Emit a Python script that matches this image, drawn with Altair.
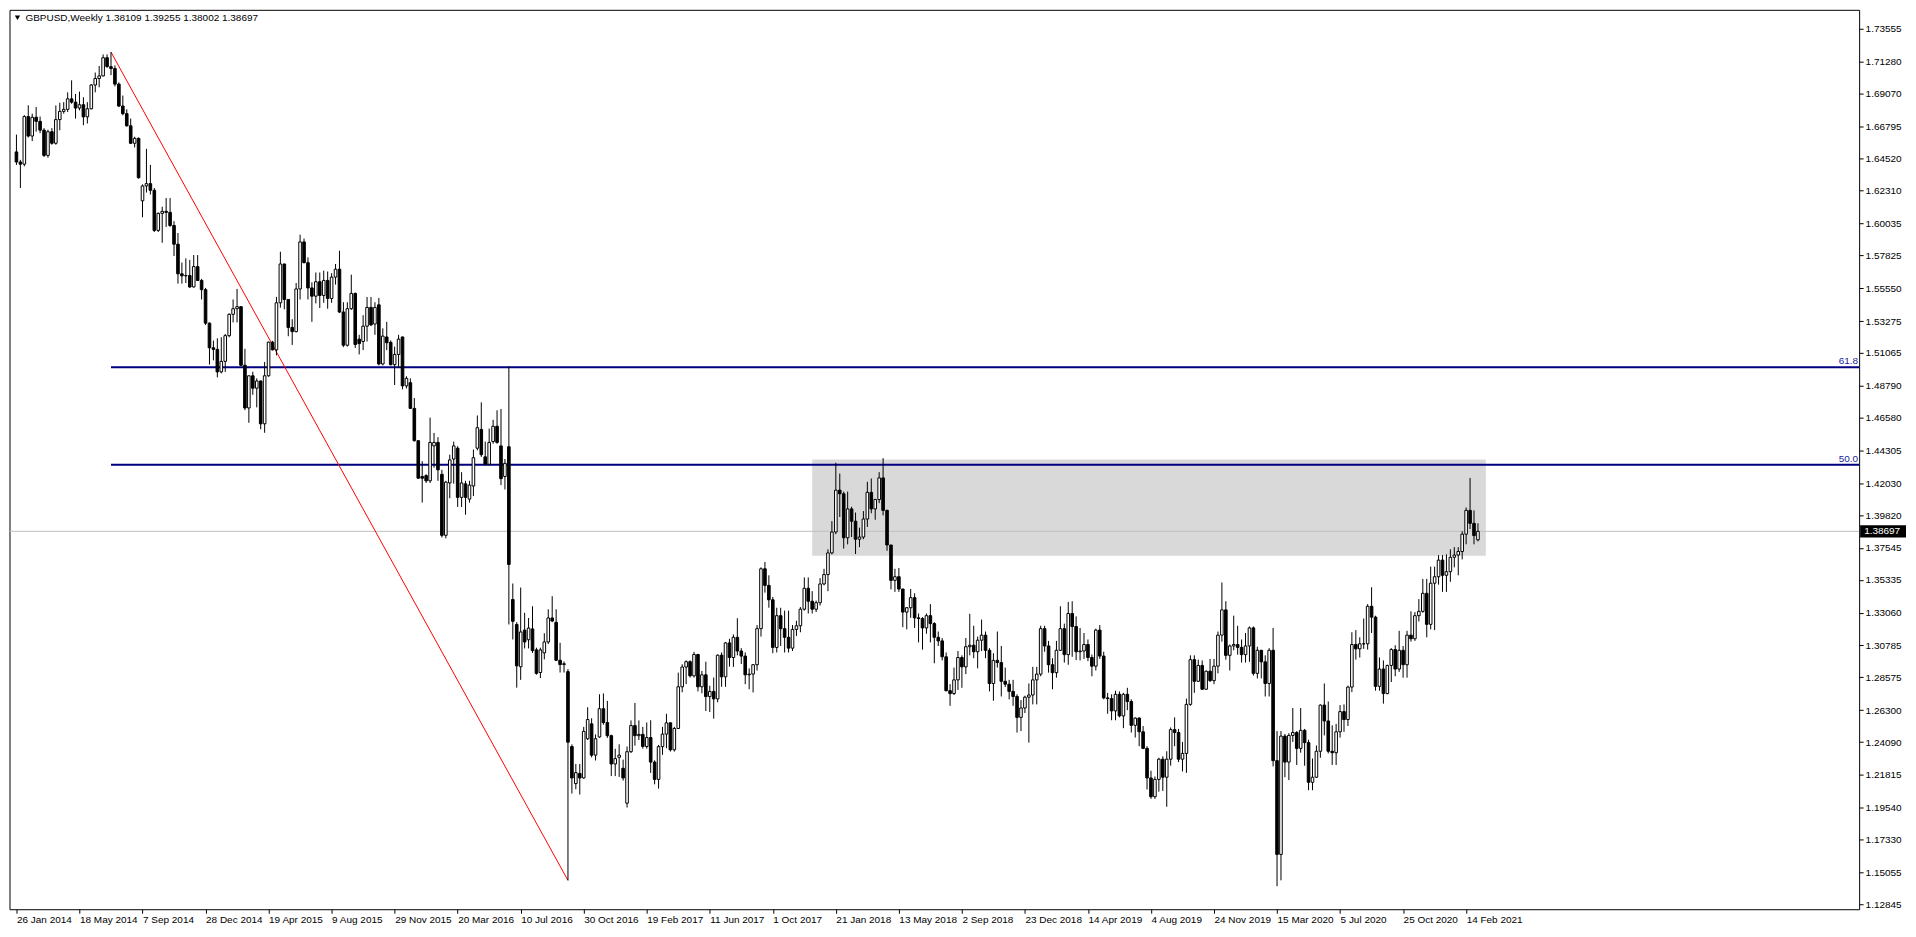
import altair as alt
import pandas as pd

# ---------------- data (GBPUSD weekly candles) ----------------
opens = [
    1.6500, 1.6430, 1.6415, 1.6745, 1.6610, 1.6740, 1.6712, 1.6651, 1.6476, 1.6640,
    1.6560, 1.6724, 1.6781, 1.6795, 1.6868, 1.6845, 1.6804, 1.6827, 1.6743, 1.6799,
    1.6964, 1.7009, 1.7027, 1.7153, 1.7091, 1.7078, 1.6970, 1.6818, 1.6765, 1.6681,
    1.6560, 1.6594, 1.6161, 1.6264, 1.6280, 1.6234, 1.5956, 1.6074, 1.6088, 1.6081,
    1.5990, 1.5860, 1.5655, 1.5641, 1.5643, 1.5564, 1.5705, 1.5609, 1.5545, 1.5313,
    1.5142, 1.5131, 1.4975, 1.5048, 1.5226, 1.5374, 1.5413, 1.5427, 1.5021, 1.4725,
    1.4948, 1.4862, 1.4912, 1.4615, 1.4948, 1.5181, 1.5128, 1.5454, 1.5723, 1.5477,
    1.5283, 1.5254, 1.5550, 1.5876, 1.5732, 1.5557, 1.5500, 1.5600, 1.5505, 1.5609,
    1.5484, 1.5632, 1.5687, 1.5390, 1.5160, 1.5413, 1.5519, 1.5202, 1.5186, 1.5292,
    1.5422, 1.5307, 1.5440, 1.5030, 1.5217, 1.5180, 1.5025, 1.5096, 1.5217, 1.4878,
    1.4900, 1.4722, 1.4498, 1.4250, 1.4256, 1.4220, 1.4462, 1.4486, 1.4265, 1.3842,
    1.4205, 1.4371, 1.4446, 1.4105, 1.4199, 1.4093, 1.4184, 1.4446, 1.4576, 1.4386,
    1.4335, 1.4492, 1.4598, 1.4462, 1.4250, 1.4456, 1.3397, 1.3224, 1.2931, 1.3185,
    1.3118, 1.3193, 1.3048, 1.2891, 1.3027, 1.3103, 1.3269, 1.3239, 1.2976, 1.2946,
    1.2897, 1.2378, 1.2121, 1.2191, 1.2160, 1.2432, 1.2535, 1.2318, 1.2444, 1.2640,
    1.2544, 1.2453, 1.2257, 1.2303, 1.2227, 1.1985, 1.2342, 1.2523, 1.2453, 1.2462,
    1.2378, 1.2440, 1.2270, 1.2150, 1.2377, 1.2464, 1.2542, 1.2355, 1.2503, 1.2792,
    1.2929, 1.2966, 1.2868, 1.3016, 1.2792, 1.2875, 1.2724, 1.2760, 1.2708, 1.3011,
    1.2861, 1.3096, 1.2995, 1.3135, 1.3040, 1.3005, 1.2875, 1.2880, 1.2945, 1.3195,
    1.3610, 1.3495, 1.3395, 1.3065, 1.3285, 1.3195, 1.3135, 1.3060, 1.3190, 1.3215,
    1.3330, 1.3475, 1.3385, 1.3330, 1.3375, 1.3505, 1.3570, 1.3720, 1.3865, 1.4155,
    1.4130, 1.3825, 1.4025, 1.3940, 1.3815, 1.3830, 1.3955, 1.4140, 1.4025, 1.4090,
    1.4240, 1.4015, 1.3775, 1.3530, 1.3555, 1.3470, 1.3310, 1.3340, 1.3410, 1.3270,
    1.3265, 1.3200, 1.3285, 1.3230, 1.3135, 1.3110, 1.3000, 1.2765, 1.2745, 1.2840,
    1.2995, 1.2930, 1.3070, 1.3080, 1.3035, 1.3115, 1.3150, 1.3045, 1.2815, 1.2975,
    1.2960, 1.2830, 1.2810, 1.2760, 1.2725, 1.2580, 1.2645, 1.2720, 1.2735, 1.2840,
    1.2880, 1.3195, 1.3075, 1.2945, 1.2890, 1.3045, 1.3195, 1.3015, 1.3300, 1.3210,
    1.3035, 1.3040, 1.3085, 1.2995, 1.2935, 1.3185, 1.3005, 1.2715, 1.2710, 1.2625,
    1.2740, 1.2590, 1.2740, 1.2690, 1.2525, 1.2575, 1.2480, 1.2365, 1.2160, 1.2030,
    1.2150, 1.2290, 1.2165, 1.2290, 1.2495, 1.2475, 1.2290, 1.2330, 1.2670, 1.2980,
    1.2830, 1.2940, 1.2775, 1.2900, 1.2835, 1.2935, 1.3150, 1.3325, 1.3010, 1.3075,
    1.3085, 1.3065, 1.3015, 1.3075, 1.3200, 1.2885, 1.3045, 1.2965, 1.2815, 1.3045,
    1.2280, 1.1630, 1.2450, 1.2270, 1.2455, 1.2475, 1.2365, 1.2490, 1.2405, 1.2130,
    1.2165, 1.2345, 1.2665, 1.2555, 1.2345, 1.2335, 1.2480, 1.2620, 1.2565, 1.2790,
    1.3085, 1.3055, 1.3090, 1.3090, 1.3350, 1.3275, 1.2795, 1.2915, 1.2745, 1.2940,
    1.3050, 1.2915, 1.3045, 1.2945, 1.3150, 1.3125, 1.3285, 1.3315, 1.3440, 1.3225,
    1.3510, 1.3555, 1.3670, 1.3565, 1.3590, 1.3690, 1.3705, 1.3730, 1.3850, 1.4015,
    1.3925, 1.38109,
]
highs = [
    1.6620, 1.6445, 1.6755, 1.6823, 1.6765, 1.6811, 1.6745, 1.6665, 1.6654, 1.6665,
    1.6822, 1.6841, 1.6845, 1.6913, 1.6996, 1.6902, 1.6918, 1.6879, 1.6845, 1.6970,
    1.7050, 1.7096, 1.7176, 1.7176, 1.7192, 1.7100, 1.6982, 1.6891, 1.6795, 1.6731,
    1.6605, 1.6600, 1.6275, 1.6521, 1.6410, 1.6250, 1.6080, 1.6120, 1.6180, 1.6180,
    1.6020, 1.5938, 1.5733, 1.5762, 1.5751, 1.5785, 1.5785, 1.5620, 1.5557, 1.5318,
    1.5192, 1.5208, 1.5215, 1.5238, 1.5381, 1.5477, 1.5550, 1.5430, 1.5135, 1.4950,
    1.4976, 1.4930, 1.4915, 1.5044, 1.5185, 1.5190, 1.5495, 1.5808, 1.5725, 1.5480,
    1.5340, 1.5591, 1.5926, 1.5899, 1.5769, 1.5596, 1.5664, 1.5664, 1.5677, 1.5671,
    1.5659, 1.5723, 1.5815, 1.5458, 1.5458, 1.5649, 1.5525, 1.5232, 1.5368, 1.5494,
    1.5494, 1.5458, 1.5488, 1.5277, 1.5322, 1.5193, 1.5150, 1.5232, 1.5220, 1.4945,
    1.4930, 1.4794, 1.4500, 1.4356, 1.4265, 1.4658, 1.4552, 1.4522, 1.4296, 1.4220,
    1.4401, 1.4492, 1.4460, 1.4280, 1.4220, 1.4220, 1.4437, 1.4673, 1.4764, 1.4492,
    1.4582, 1.4643, 1.4709, 1.4718, 1.4371, 1.5015, 1.3508, 1.3240, 1.3480, 1.3305,
    1.3269, 1.3350, 1.3063, 1.3063, 1.3163, 1.3329, 1.3420, 1.3329, 1.3097, 1.2967,
    1.2915, 1.2393, 1.2257, 1.2257, 1.2514, 1.2650, 1.2574, 1.2462, 1.2740, 1.2746,
    1.2694, 1.2460, 1.2362, 1.2393, 1.2287, 1.2378, 1.2559, 1.2680, 1.2559, 1.2514,
    1.2544, 1.2560, 1.2282, 1.2389, 1.2514, 1.2605, 1.2545, 1.2514, 1.2890, 1.2948,
    1.2975, 1.2975, 1.3034, 1.3020, 1.2902, 1.2966, 1.2799, 1.2856, 1.3016, 1.3030,
    1.3102, 1.3125, 1.3155, 1.3267, 1.3060, 1.3030, 1.2920, 1.2950, 1.3220, 1.3620,
    1.3657, 1.3565, 1.3415, 1.3340, 1.3340, 1.3320, 1.3320, 1.3220, 1.3250, 1.3345,
    1.3550, 1.3550, 1.3455, 1.3390, 1.3545, 1.3610, 1.3745, 1.3940, 1.4345, 1.4270,
    1.4145, 1.4145, 1.4040, 1.4000, 1.3895, 1.4010, 1.4213, 1.4236, 1.4095, 1.4280,
    1.4377, 1.4020, 1.3775, 1.3610, 1.3615, 1.3470, 1.3345, 1.3470, 1.3440, 1.3300,
    1.3275, 1.3300, 1.3365, 1.3240, 1.3175, 1.3130, 1.3030, 1.2810, 1.2925, 1.3040,
    1.3010, 1.3130, 1.3298, 1.3215, 1.3140, 1.3258, 1.3175, 1.3060, 1.3025, 1.3175,
    1.3075, 1.2925, 1.2840, 1.2840, 1.2740, 1.2700, 1.2730, 1.2815, 1.2930, 1.2930,
    1.3215, 1.3215, 1.3110, 1.2990, 1.3110, 1.3350, 1.3230, 1.3380, 1.3385, 1.3280,
    1.3200, 1.3165, 1.3120, 1.3015, 1.3195, 1.3220, 1.3035, 1.2750, 1.2740, 1.2765,
    1.2760, 1.2750, 1.2785, 1.2705, 1.2580, 1.2580, 1.2520, 1.2380, 1.2210, 1.2170,
    1.2300, 1.2310, 1.2345, 1.2510, 1.2580, 1.2500, 1.2410, 1.2710, 1.3010, 1.3010,
    1.2980, 1.2975, 1.2905, 1.2985, 1.2985, 1.3175, 1.3515, 1.3385, 1.3085, 1.3285,
    1.3215, 1.3120, 1.3165, 1.3210, 1.3210, 1.3070, 1.3020, 1.3010, 1.3060, 1.3200,
    1.2485, 1.2485, 1.2465, 1.2470, 1.2645, 1.2485, 1.2645, 1.2500, 1.2425, 1.2295,
    1.2385, 1.2670, 1.2815, 1.2690, 1.2525, 1.2535, 1.2665, 1.2670, 1.2800, 1.3170,
    1.3185, 1.3135, 1.3265, 1.3365, 1.3482, 1.3285, 1.2995, 1.2975, 1.2945, 1.3060,
    1.3080, 1.3180, 1.3075, 1.3180, 1.3315, 1.3310, 1.3400, 1.3540, 1.3540, 1.3625,
    1.3625, 1.3705, 1.3705, 1.3710, 1.3745, 1.3760, 1.3760, 1.3870, 1.4035, 1.4240,
    1.4015, 1.39255,
]
lows = [
    1.6410, 1.6250, 1.6400, 1.6600, 1.6575, 1.6640, 1.6630, 1.6465, 1.6460, 1.6550,
    1.6550, 1.6650, 1.6765, 1.6777, 1.6834, 1.6731, 1.6788, 1.6685, 1.6697, 1.6795,
    1.6913, 1.6948, 1.7023, 1.7084, 1.7032, 1.6954, 1.6811, 1.6754, 1.6675, 1.6555,
    1.6531, 1.6315, 1.6047, 1.6218, 1.6205, 1.5945, 1.5945, 1.5870, 1.5980, 1.5980,
    1.5778, 1.5587, 1.5587, 1.5591, 1.5557, 1.5560, 1.5605, 1.5477, 1.5300, 1.5026,
    1.5055, 1.4937, 1.4965, 1.4975, 1.5215, 1.5318, 1.5318, 1.5017, 1.4710, 1.4622,
    1.4816, 1.4729, 1.4577, 1.4553, 1.4941, 1.5124, 1.5090, 1.5420, 1.5409, 1.5222,
    1.5162, 1.5249, 1.5477, 1.5728, 1.5477, 1.5322, 1.5450, 1.5418, 1.5454, 1.5413,
    1.5454, 1.5580, 1.5383, 1.5147, 1.5150, 1.5405, 1.5141, 1.5096, 1.5126, 1.5186,
    1.5292, 1.5232, 1.5020, 1.5020, 1.5126, 1.5020, 1.4884, 1.5005, 1.4854, 1.4860,
    1.4718, 1.4492, 1.4235, 1.4069, 1.4205, 1.4205, 1.4311, 1.4220, 1.3827, 1.3821,
    1.4099, 1.4200, 1.4039, 1.4039, 1.3985, 1.4069, 1.4114, 1.4431, 1.4386, 1.4326,
    1.4326, 1.4477, 1.4477, 1.4190, 1.4160, 1.3224, 1.3120, 1.2786, 1.2840, 1.3058,
    1.3058, 1.3027, 1.2876, 1.2852, 1.2982, 1.3088, 1.3240, 1.2970, 1.2891, 1.2891,
    1.1450, 1.2052, 1.2082, 1.2045, 1.2155, 1.2423, 1.2303, 1.2281, 1.2438, 1.2529,
    1.2438, 1.2173, 1.2173, 1.2167, 1.2142, 1.1955, 1.2333, 1.2384, 1.2423, 1.2363,
    1.2363, 1.2195, 1.2116, 1.2086, 1.2320, 1.2366, 1.2343, 1.2343, 1.2503, 1.2754,
    1.2811, 1.2856, 1.2856, 1.2760, 1.2747, 1.2624, 1.2617, 1.2571, 1.2685, 1.2792,
    1.2792, 1.2932, 1.2930, 1.3010, 1.2950, 1.2810, 1.2775, 1.2753, 1.2905, 1.3140,
    1.3445, 1.3340, 1.3025, 1.3030, 1.3075, 1.3030, 1.3030, 1.3040, 1.3145, 1.3170,
    1.3320, 1.3300, 1.3300, 1.3310, 1.3355, 1.3495, 1.3455, 1.3710, 1.3850, 1.3969,
    1.3750, 1.3779, 1.3830, 1.3712, 1.3760, 1.3815, 1.3900, 1.3995, 1.3950, 1.4065,
    1.3980, 1.3735, 1.3467, 1.3450, 1.3450, 1.3205, 1.3190, 1.3270, 1.3200, 1.3100,
    1.3050, 1.3160, 1.3100, 1.2955, 1.3075, 1.2975, 1.2760, 1.2660, 1.2735, 1.2770,
    1.2785, 1.2880, 1.3010, 1.2990, 1.2920, 1.3040, 1.2990, 1.2760, 1.2695, 1.2925,
    1.2725, 1.2790, 1.2705, 1.2660, 1.2475, 1.2485, 1.2610, 1.2405, 1.2670, 1.2670,
    1.2865, 1.3035, 1.2890, 1.2775, 1.2855, 1.3040, 1.2960, 1.2945, 1.3000, 1.2977,
    1.2975, 1.2985, 1.2970, 1.2865, 1.2905, 1.2985, 1.2705, 1.2605, 1.2560, 1.2560,
    1.2580, 1.2505, 1.2630, 1.2475, 1.2440, 1.2380, 1.2360, 1.2080, 1.2015, 1.2015,
    1.2065, 1.2070, 1.1960, 1.2245, 1.2380, 1.2270, 1.2205, 1.2195, 1.2660, 1.2750,
    1.2825, 1.2770, 1.2770, 1.2825, 1.2810, 1.2885, 1.3105, 1.2980, 1.2905, 1.3045,
    1.3015, 1.2960, 1.2960, 1.2965, 1.2870, 1.2850, 1.2850, 1.2725, 1.2725, 1.2240,
    1.1410, 1.1450, 1.2165, 1.2145, 1.2410, 1.2250, 1.2335, 1.2245, 1.2075, 1.2075,
    1.2160, 1.2300, 1.2455, 1.2330, 1.2250, 1.2250, 1.2440, 1.2480, 1.2520, 1.2755,
    1.2980, 1.2995, 1.3055, 1.3050, 1.3165, 1.2765, 1.2765, 1.2675, 1.2740, 1.2825,
    1.2865, 1.2895, 1.2855, 1.2855, 1.3105, 1.3110, 1.3245, 1.3305, 1.3135, 1.3190,
    1.3185, 1.3500, 1.3450, 1.3450, 1.3520, 1.3620, 1.3565, 1.3675, 1.3780, 1.3885,
    1.3780, 1.38002,
]
closes = [
    1.6430, 1.6415, 1.6745, 1.6610, 1.6740, 1.6712, 1.6651, 1.6476, 1.6640, 1.6560,
    1.6724, 1.6781, 1.6795, 1.6868, 1.6845, 1.6804, 1.6827, 1.6743, 1.6799, 1.6964,
    1.7009, 1.7027, 1.7153, 1.7091, 1.7078, 1.6970, 1.6818, 1.6765, 1.6681, 1.6560,
    1.6594, 1.6321, 1.6264, 1.6280, 1.6234, 1.5956, 1.6074, 1.6088, 1.6081, 1.5990,
    1.5860, 1.5655, 1.5641, 1.5643, 1.5564, 1.5705, 1.5609, 1.5545, 1.5313, 1.5142,
    1.5131, 1.4975, 1.5048, 1.5226, 1.5374, 1.5413, 1.5427, 1.5021, 1.4725, 1.4948,
    1.4862, 1.4912, 1.4615, 1.4948, 1.5181, 1.5128, 1.5454, 1.5723, 1.5477, 1.5283,
    1.5254, 1.5550, 1.5876, 1.5732, 1.5557, 1.5500, 1.5600, 1.5505, 1.5609, 1.5484,
    1.5632, 1.5687, 1.5390, 1.5160, 1.5413, 1.5519, 1.5165, 1.5171, 1.5292, 1.5422,
    1.5301, 1.5422, 1.5030, 1.5223, 1.5177, 1.5025, 1.5096, 1.5202, 1.4878, 1.4930,
    1.4722, 1.4498, 1.4238, 1.4238, 1.4220, 1.4486, 1.4486, 1.4296, 1.3842, 1.4211,
    1.4365, 1.4462, 1.4105, 1.4205, 1.4105, 1.4190, 1.4380, 1.4588, 1.4401, 1.4335,
    1.4486, 1.4598, 1.4486, 1.4235, 1.4341, 1.3640, 1.3246, 1.2937, 1.3172, 1.3103,
    1.3199, 1.3043, 1.2885, 1.3048, 1.3103, 1.3269, 1.3248, 1.2976, 1.2946, 1.2952,
    1.2408, 1.2160, 1.2197, 1.2160, 1.2483, 1.2565, 1.2318, 1.2432, 1.2640, 1.2544,
    1.2453, 1.2257, 1.2294, 1.2318, 1.2160, 1.2342, 1.2523, 1.2453, 1.2462, 1.2378,
    1.2440, 1.2270, 1.2150, 1.2377, 1.2464, 1.2542, 1.2355, 1.2503, 1.2792, 1.2929,
    1.2966, 1.2868, 1.3016, 1.2792, 1.2875, 1.2724, 1.2760, 1.2708, 1.3011, 1.2861,
    1.3096, 1.2995, 1.3135, 1.3040, 1.3005, 1.2875, 1.2880, 1.2945, 1.3195, 1.3610,
    1.3495, 1.3395, 1.3065, 1.3285, 1.3195, 1.3135, 1.3060, 1.3190, 1.3215, 1.3330,
    1.3475, 1.3385, 1.3330, 1.3375, 1.3505, 1.3570, 1.3720, 1.3865, 1.4155, 1.4130,
    1.3825, 1.4025, 1.3940, 1.3815, 1.3830, 1.3955, 1.4140, 1.4025, 1.4090, 1.4240,
    1.4015, 1.3775, 1.3530, 1.3555, 1.3470, 1.3310, 1.3340, 1.3410, 1.3270, 1.3265,
    1.3200, 1.3285, 1.3230, 1.3135, 1.3110, 1.3000, 1.2765, 1.2745, 1.2840, 1.2995,
    1.2930, 1.3070, 1.3080, 1.3035, 1.3115, 1.3150, 1.3045, 1.2815, 1.2975, 1.2960,
    1.2830, 1.2810, 1.2760, 1.2725, 1.2580, 1.2645, 1.2720, 1.2735, 1.2840, 1.2880,
    1.3195, 1.3075, 1.2945, 1.2890, 1.3045, 1.3195, 1.3015, 1.3300, 1.3210, 1.3035,
    1.3040, 1.3085, 1.2995, 1.2935, 1.3185, 1.3005, 1.2715, 1.2710, 1.2625, 1.2740,
    1.2590, 1.2740, 1.2690, 1.2525, 1.2575, 1.2480, 1.2365, 1.2160, 1.2030, 1.2150,
    1.2290, 1.2165, 1.2290, 1.2495, 1.2475, 1.2290, 1.2330, 1.2670, 1.2980, 1.2830,
    1.2940, 1.2775, 1.2900, 1.2835, 1.2935, 1.3150, 1.3325, 1.3010, 1.3075, 1.3085,
    1.3065, 1.3015, 1.3075, 1.3200, 1.2885, 1.3045, 1.2965, 1.2815, 1.3045, 1.2280,
    1.1630, 1.2450, 1.2270, 1.2455, 1.2475, 1.2365, 1.2490, 1.2405, 1.2130, 1.2165,
    1.2345, 1.2665, 1.2555, 1.2345, 1.2335, 1.2480, 1.2620, 1.2565, 1.2790, 1.3085,
    1.3055, 1.3090, 1.3090, 1.3350, 1.3275, 1.2795, 1.2915, 1.2745, 1.2940, 1.3050,
    1.2915, 1.3045, 1.2945, 1.3150, 1.3125, 1.3285, 1.3315, 1.3440, 1.3225, 1.3510,
    1.3555, 1.3670, 1.3565, 1.3590, 1.3690, 1.3705, 1.3730, 1.3850, 1.4015, 1.3925,
    1.3840, 1.38697,
]

date_labels = [
    "26 Jan 2014", "18 May 2014", "7 Sep 2014", "28 Dec 2014", "19 Apr 2015",
    "9 Aug 2015", "29 Nov 2015", "20 Mar 2016", "10 Jul 2016", "30 Oct 2016",
    "19 Feb 2017", "11 Jun 2017", "1 Oct 2017", "21 Jan 2018", "13 May 2018",
    "2 Sep 2018", "23 Dec 2018", "14 Apr 2019", "4 Aug 2019", "24 Nov 2019",
    "15 Mar 2020", "5 Jul 2020", "25 Oct 2020", "14 Feb 2021",
]
label_step = 16  # weeks between date labels

price_ticks = [
    1.73555, 1.71280, 1.69070, 1.66795, 1.64520, 1.62310, 1.60035, 1.57825,
    1.55550, 1.53275, 1.51065, 1.48790, 1.46580, 1.44305, 1.42030, 1.39820,
    1.37545, 1.35335, 1.33060, 1.30785, 1.28575, 1.26300, 1.24090, 1.21815,
    1.19540, 1.17330, 1.15055, 1.12845,
]

fib_levels = [1.5008, 1.4331]
fib_names = ["61.8", "50.0"]
fib_start = 24            # week index where the Fibonacci levels start

trend_x = [24, 140]       # red swing line: July 2014 high to Oct 2016 low
trend_y = [1.7192, 1.1450]

zone_x = [202, 373]       # grey rectangle
zone_y = [1.3700, 1.4368]

last_price = 1.38697
header = "GBPUSD,Weekly  1.38109 1.39255 1.38002 1.38697"

# ---------------- chart ----------------
W, H = 1855, 902
FONT = "Liberation Sans"

n = len(closes)
df = pd.DataFrame({
    "idx": list(range(n)),
    "o": opens,
    "h": [max(a, b, c) for a, b, c in zip(highs, opens, closes)],
    "l": [min(a, b, c) for a, b, c in zip(lows, opens, closes)],
    "c": closes,
})

x_scale = alt.Scale(domain=[-0.5, 466.5], nice=False, zero=False)
y_scale = alt.Scale(domain=[1.1250, 1.7485], nice=False, zero=False)

label_array = "[" + ",".join("'" + s + "'" for s in date_labels) + "]"
x_axis = alt.Axis(
    values=[i * label_step for i in range(len(date_labels))],
    labelExpr=f"{label_array}[floor(datum.value / {label_step} + 0.5)]",
    labelAlign="left", labelFlush=False, labelOverlap=False,
    tickSize=4, tickColor="black", labelPadding=1,
    domain=False, grid=False, title=None,
    labelFont=FONT, labelFontSize=10, labelColor="black",
)
y_axis = alt.Axis(
    orient="right", values=price_ticks, format=".5f",
    tickSize=4, tickColor="black", labelPadding=2,
    domain=False, grid=False, title=None, labelOverlap=False, labelFlush=False,
    labelFont=FONT, labelFontSize=10, labelColor="black",
)


def X(field):
    return alt.X(field, scale=x_scale, axis=x_axis)


def Y(field):
    return alt.Y(field, scale=y_scale, axis=y_axis)


base = alt.Chart(df)

wicks = base.mark_rule(color="black", strokeWidth=1).encode(
    x=X("idx:Q"), y=Y("l:Q"), y2="h:Q",
)
bodies = base.mark_bar(size=2.6, stroke="black", strokeWidth=1).encode(
    x=X("idx:Q"), y=Y("o:Q"), y2="c:Q",
    fill=alt.condition(alt.datum.c >= alt.datum.o, alt.value("white"), alt.value("black")),
)

zone_df = pd.DataFrame({"x0": [zone_x[0]], "x1": [zone_x[1]], "y0": [zone_y[0]], "y1": [zone_y[1]]})
zone = alt.Chart(zone_df).mark_rect(color="#d9d9d9").encode(
    x=X("x0:Q"), x2="x1:Q", y=Y("y0:Q"), y2="y1:Q",
)

last_df = pd.DataFrame({"p": [last_price], "t": [f"{last_price:.5f}"]})
last_line = alt.Chart(last_df).mark_rule(color="#c0c0c0", strokeWidth=1).encode(
    y=Y("p:Q"),
)

fib_df = pd.DataFrame({"lvl": fib_levels, "name": fib_names, "x0": [fib_start] * len(fib_levels)})
fib_lines = alt.Chart(fib_df).mark_rule(color="#000080", strokeWidth=2).encode(
    x=X("x0:Q"), x2=alt.value(W), y=Y("lvl:Q"),
)
fib_text = alt.Chart(fib_df).mark_text(
    align="right", baseline="bottom", dy=-1, color="#1a1aa0", font=FONT, fontSize=10
).encode(
    x=alt.value(W - 1), y=Y("lvl:Q"), text="name:N",
)

trend_df = pd.DataFrame({"x0": [trend_x[0]], "x1": [trend_x[1]], "y0": [trend_y[0]], "y1": [trend_y[1]]})
trend = alt.Chart(trend_df).mark_rule(color="red", strokeWidth=1).encode(
    x=X("x0:Q"), x2="x1:Q", y=Y("y0:Q"), y2="y1:Q",
)

hdr_df = pd.DataFrame({"t": [header]})
hdr_tri = alt.Chart(hdr_df).mark_point(shape="triangle-down", filled=True, size=28, color="black", opacity=1).encode(
    x=alt.value(8), y=alt.value(8),
)
hdr_text = alt.Chart(hdr_df).mark_text(align="left", baseline="middle", font=FONT, fontSize=10, color="black").encode(
    x=alt.value(16), y=alt.value(8), text="t:N",
)

tag_box = alt.Chart(last_df).mark_point(
    shape="M-1,-0.27H1V0.27H-1Z", filled=True, size=46 * 46, color="black", opacity=1
).encode(
    x=alt.value(W + 24), y=Y("p:Q"),
)
tag_text = alt.Chart(last_df).mark_text(align="left", baseline="middle", font=FONT, fontSize=10, color="white").encode(
    x=alt.value(W + 5), y=Y("p:Q"), text="t:N",
)

chart = alt.layer(
    zone, last_line, fib_lines, trend, wicks, bodies, fib_text, hdr_tri, hdr_text, tag_box, tag_text
).properties(
    width=W, height=H, background="white",
    padding={"left": 0.5, "top": 0.5, "right": 2, "bottom": 2},
).configure_view(
    stroke="black", strokeWidth=1
)

chart.save("out.html", embed_options={"renderer": "svg", "actions": False})
